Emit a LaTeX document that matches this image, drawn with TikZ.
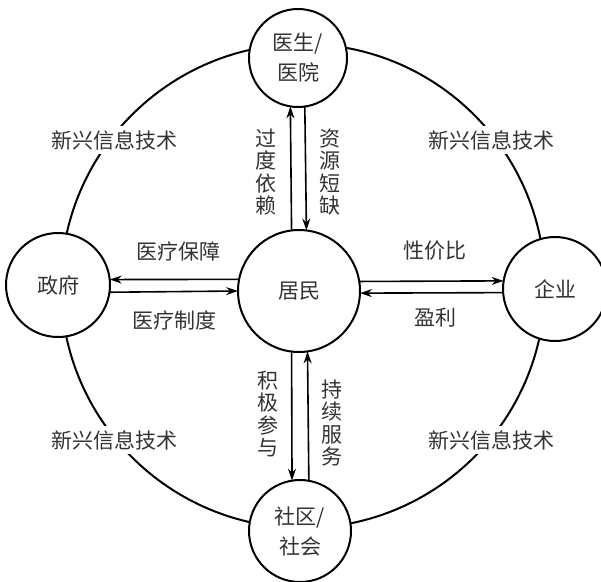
\documentclass[tikz,border=0pt]{standalone}
\usepackage{fontspec}
\newfontfamily\cjk{Noto Sans CJK SC}
\usetikzlibrary{arrows.meta}
\begin{document}
\begin{tikzpicture}[x=1pt,y=-1pt,
  ball/.style={circle,draw,line width=2pt,fill=white,inner sep=0pt,outer sep=0pt},
  txt/.style={font=\cjk\fontsize{21}{30}\selectfont,text=black!80},
  tag/.style={txt,fill=white,inner sep=4pt},
  vtxt/.style={font=\cjk\fontsize{21}{22.5}\selectfont,text=black!80,align=center},
  flow/.style={line width=1.6pt,-{Stealth[length=12pt,width=8pt]}},
]
\useasboundingbox (0,0) rectangle (601,581);
\node[circle,draw,line width=2pt,minimum size=484pt,inner sep=0pt] (ring) at (303,286) {};
\node[ball,minimum size=122pt,txt] (mid) at (299,291) {居民};
\node[ball,minimum size=98pt,txt,align=center] (top) at (298,58) {医生/\\医院};
\node[ball,minimum size=102pt,txt,align=center] (bot) at (300,531) {社区/\\社会};
\node[ball,minimum size=104pt,txt] (left) at (58,285) {政府};
\node[ball,minimum size=104pt,txt] (right) at (555,289) {企业};
\draw[flow] (mid.97.5) -- (top.261.8);
\draw[flow] (top.278.8) -- (mid.83.9);
\draw[flow] (mid.263.4) -- (bot.99);
\draw[flow] (bot.80.6) -- (mid.278.8);
\draw[flow] (mid.169.1) -- (left.6.1);
\draw[flow] (left.352.3) -- (mid.180.9);
\draw[flow] (mid.9.0) -- (right.171.7);
\draw[flow] (right.184.4) -- (mid.358.1);
\node[tag] (t1) at (114,140) {新兴信息技术};
\node[tag] (t2) at (491,140) {新兴信息技术};
\node[tag] (t3) at (114,440) {新兴信息技术};
\node[tag] (t4) at (491,440) {新兴信息技术};
\node[txt] (l1) at (178,251) {医疗保障};
\node[txt] (l2) at (174,320) {医疗制度};
\node[txt] (l3) at (435,251) {性价比};
\node[txt] (l4) at (435,318) {盈利};
\node[vtxt] (l5) at (266,172) {过\\度\\依\\赖};
\node[vtxt] (l6) at (330,172) {资\\源\\短\\缺};
\node[vtxt] (l7) at (268,414) {积\\极\\参\\与};
\node[vtxt] (l8) at (332,423) {持\\续\\服\\务};
\end{tikzpicture}
\end{document}
